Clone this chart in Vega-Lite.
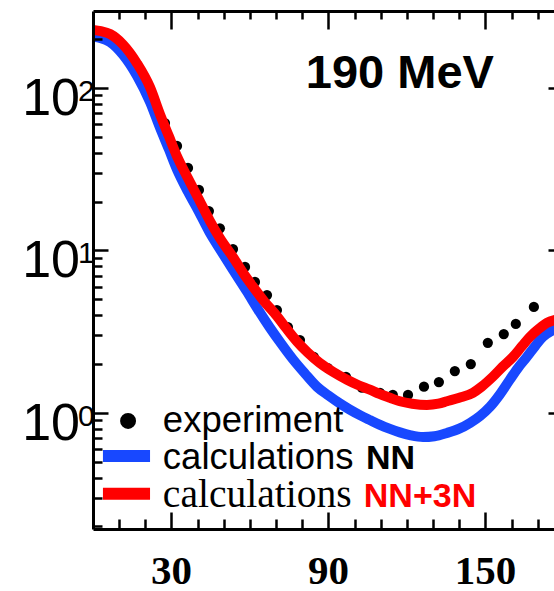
{
  "$schema": "https://vega.github.io/schema/vega-lite/v6.json",
  "width": 461,
  "height": 518,
  "autosize": "none",
  "padding": {"left": 93, "top": 11, "right": 0, "bottom": 62},
  "background": "white",
  "config": {"view": {"stroke": null}, "font": "Liberation Sans"},
  "datasets": {
    "experiment": [
      {"angle": 27.5, "xs": 60.9}, {"angle": 32.1, "xs": 44.0}, {"angle": 36.3, "xs": 32.2},
      {"angle": 40.5, "xs": 23.6}, {"angle": 44.3, "xs": 17.5}, {"angle": 48.5, "xs": 13.7},
      {"angle": 53.5, "xs": 10.2}, {"angle": 58.1, "xs": 7.92}, {"angle": 61.9, "xs": 6.40},
      {"angle": 66.5, "xs": 5.32}, {"angle": 70.3, "xs": 4.30}, {"angle": 74.5, "xs": 3.38},
      {"angle": 79.1, "xs": 2.81}, {"angle": 84.4, "xs": 2.21}, {"angle": 89.8, "xs": 1.89},
      {"angle": 96.7, "xs": 1.67}, {"angle": 102.8, "xs": 1.43}, {"angle": 109.7, "xs": 1.33},
      {"angle": 114.6, "xs": 1.29}, {"angle": 120.4, "xs": 1.29}, {"angle": 126.5, "xs": 1.45},
      {"angle": 132.2, "xs": 1.55}, {"angle": 138.3, "xs": 1.81}, {"angle": 144.4, "xs": 2.00},
      {"angle": 150.9, "xs": 2.70}, {"angle": 157.0, "xs": 3.06}, {"angle": 161.6, "xs": 3.53},
      {"angle": 168.5, "xs": 4.49}
    ],
    "calc": [
      {"model": "NN", "angle": 0, "xs": 207}, {"model": "NN", "angle": 3, "xs": 203},
      {"model": "NN", "angle": 6.5, "xs": 192}, {"model": "NN", "angle": 11.5, "xs": 160},
      {"model": "NN", "angle": 16.8, "xs": 119}, {"model": "NN", "angle": 21.8, "xs": 82},
      {"model": "NN", "angle": 25.6, "xs": 57}, {"model": "NN", "angle": 29, "xs": 42},
      {"model": "NN", "angle": 32.1, "xs": 31.5}, {"model": "NN", "angle": 36.3, "xs": 23},
      {"model": "NN", "angle": 40.5, "xs": 17.3}, {"model": "NN", "angle": 44.5, "xs": 13.0},
      {"model": "NN", "angle": 48.5, "xs": 10.2}, {"model": "NN", "angle": 53.5, "xs": 7.6},
      {"model": "NN", "angle": 58.8, "xs": 5.6}, {"model": "NN", "angle": 63, "xs": 4.35},
      {"model": "NN", "angle": 67.6, "xs": 3.35}, {"model": "NN", "angle": 72, "xs": 2.66},
      {"model": "NN", "angle": 76.4, "xs": 2.14}, {"model": "NN", "angle": 81, "xs": 1.75},
      {"model": "NN", "angle": 85.6, "xs": 1.45}, {"model": "NN", "angle": 90, "xs": 1.28},
      {"model": "NN", "angle": 94.4, "xs": 1.143}, {"model": "NN", "angle": 98, "xs": 1.052},
      {"model": "NN", "angle": 102, "xs": 0.970}, {"model": "NN", "angle": 106, "xs": 0.902},
      {"model": "NN", "angle": 109.7, "xs": 0.845}, {"model": "NN", "angle": 113.5, "xs": 0.798},
      {"model": "NN", "angle": 117.3, "xs": 0.759}, {"model": "NN", "angle": 121.5, "xs": 0.728},
      {"model": "NN", "angle": 126.1, "xs": 0.711}, {"model": "NN", "angle": 130.5, "xs": 0.719},
      {"model": "NN", "angle": 135.3, "xs": 0.753}, {"model": "NN", "angle": 140, "xs": 0.80},
      {"model": "NN", "angle": 144.1, "xs": 0.868}, {"model": "NN", "angle": 148, "xs": 0.96},
      {"model": "NN", "angle": 151.7, "xs": 1.09}, {"model": "NN", "angle": 155.5, "xs": 1.30},
      {"model": "NN", "angle": 159.3, "xs": 1.60}, {"model": "NN", "angle": 162.5, "xs": 1.90},
      {"model": "NN", "angle": 165.8, "xs": 2.21}, {"model": "NN", "angle": 169, "xs": 2.58},
      {"model": "NN", "angle": 171.9, "xs": 2.94}, {"model": "NN", "angle": 175.8, "xs": 3.24},
      {"model": "NN", "angle": 178, "xs": 3.38},
      {"model": "NN+3N", "angle": 0, "xs": 228}, {"model": "NN+3N", "angle": 3, "xs": 224},
      {"model": "NN+3N", "angle": 6.5, "xs": 215}, {"model": "NN+3N", "angle": 11.5, "xs": 185},
      {"model": "NN+3N", "angle": 16.8, "xs": 142}, {"model": "NN+3N", "angle": 21.8, "xs": 101},
      {"model": "NN+3N", "angle": 25.6, "xs": 69}, {"model": "NN+3N", "angle": 29, "xs": 50.5},
      {"model": "NN+3N", "angle": 32.1, "xs": 38}, {"model": "NN+3N", "angle": 36.3, "xs": 27.8},
      {"model": "NN+3N", "angle": 40.5, "xs": 20.6}, {"model": "NN+3N", "angle": 44.5, "xs": 15.4},
      {"model": "NN+3N", "angle": 48.5, "xs": 11.9}, {"model": "NN+3N", "angle": 53.5, "xs": 9.1},
      {"model": "NN+3N", "angle": 58.1, "xs": 7.0}, {"model": "NN+3N", "angle": 61.1, "xs": 6.0},
      {"model": "NN+3N", "angle": 65.5, "xs": 4.85}, {"model": "NN+3N", "angle": 70.3, "xs": 3.95},
      {"model": "NN+3N", "angle": 74, "xs": 3.3}, {"model": "NN+3N", "angle": 78, "xs": 2.75},
      {"model": "NN+3N", "angle": 82, "xs": 2.36}, {"model": "NN+3N", "angle": 86.7, "xs": 2.03},
      {"model": "NN+3N", "angle": 92, "xs": 1.78}, {"model": "NN+3N", "angle": 97.1, "xs": 1.60},
      {"model": "NN+3N", "angle": 101.5, "xs": 1.48}, {"model": "NN+3N", "angle": 105.8, "xs": 1.39},
      {"model": "NN+3N", "angle": 109.5, "xs": 1.31}, {"model": "NN+3N", "angle": 113.5, "xs": 1.24},
      {"model": "NN+3N", "angle": 117.3, "xs": 1.18}, {"model": "NN+3N", "angle": 122, "xs": 1.14},
      {"model": "NN+3N", "angle": 127.6, "xs": 1.12}, {"model": "NN+3N", "angle": 132, "xs": 1.14},
      {"model": "NN+3N", "angle": 135.3, "xs": 1.18}, {"model": "NN+3N", "angle": 140, "xs": 1.24},
      {"model": "NN+3N", "angle": 145.2, "xs": 1.33}, {"model": "NN+3N", "angle": 148.5, "xs": 1.45},
      {"model": "NN+3N", "angle": 152.8, "xs": 1.67}, {"model": "NN+3N", "angle": 156.5, "xs": 1.92},
      {"model": "NN+3N", "angle": 160.5, "xs": 2.21}, {"model": "NN+3N", "angle": 164, "xs": 2.58},
      {"model": "NN+3N", "angle": 167, "xs": 2.94}, {"model": "NN+3N", "angle": 170.5, "xs": 3.3},
      {"model": "NN+3N", "angle": 173.5, "xs": 3.58}, {"model": "NN+3N", "angle": 177, "xs": 3.75},
      {"model": "NN+3N", "angle": 180, "xs": 3.85}
    ],
    "xticklabels": [{"t": 30}, {"t": 90}, {"t": 150}],
    "decades": [{"v": 1, "e": "0"}, {"v": 10, "e": "1"}, {"v": 100, "e": "2"}]
  },
  "layer": [
    {
      "data": {"name": "experiment"},
      "mark": {"type": "point", "filled": true, "color": "black", "opacity": 1, "size": 105, "clip": true},
      "encoding": {
        "x": {
          "field": "angle", "type": "quantitative",
          "scale": {"domain": [0, 176.2], "nice": false, "zero": false},
          "axis": {
            "orient": "bottom", "values": [10, 20, 30, 40, 50, 60, 70, 80, 90, 100, 110, 120, 130, 140, 150, 160, 170],
            "labels": false, "title": null, "grid": false, "zindex": 1,
            "domainColor": "black", "domainWidth": 3, "tickColor": "black", "tickWidth": 2.5,
            "tickSize": {"condition": {"test": "datum.value % 60 === 30", "value": -17}, "value": -10}
          }
        },
        "y": {
          "field": "xs", "type": "quantitative",
          "scale": {"type": "log", "domain": [0.193, 298], "nice": false},
          "axis": {
            "orient": "left",
            "values": [0.2, 0.3, 0.4, 0.5, 0.6, 0.7, 0.8, 0.9, 1, 2, 3, 4, 5, 6, 7, 8, 9, 10, 20, 30, 40, 50, 60, 70, 80, 90, 100, 200],
            "labels": false, "title": null, "grid": false, "zindex": 1,
            "domainColor": "black", "domainWidth": 3, "tickColor": "black", "tickWidth": 2.5,
            "tickSize": {"condition": {"test": "datum.value === 1 || datum.value === 10 || datum.value === 100", "value": -15}, "value": -9}
          }
        }
      }
    },
    {
      "data": {"name": "calc"},
      "mark": {"type": "line", "strokeWidth": 10, "interpolate": "monotone", "clip": true},
      "encoding": {
        "x": {
          "field": "angle", "type": "quantitative",
          "scale": {"domain": [0, 176.2], "nice": false, "zero": false},
          "axis": {
            "orient": "top", "values": [10, 20, 30, 40, 50, 60, 70, 80, 90, 100, 110, 120, 130, 140, 150, 160, 170],
            "labels": false, "title": null, "grid": false, "zindex": 1,
            "domainColor": "black", "domainWidth": 3, "tickColor": "black", "tickWidth": 2.5,
            "tickSize": {"condition": {"test": "datum.value % 60 === 30", "value": -18}, "value": -8}
          }
        },
        "y": {
          "field": "xs", "type": "quantitative",
          "scale": {"type": "log", "domain": [0.193, 298], "nice": false},
          "axis": {
            "orient": "right", "values": [1, 10, 100], "labels": false, "title": null, "grid": false,
            "domain": false, "zindex": 1, "tickColor": "black", "tickWidth": 2.5, "tickSize": -6
          }
        },
        "color": {
          "field": "model", "type": "nominal",
          "scale": {"domain": ["NN", "NN+3N"], "range": ["#1848ff", "#ff0000"]},
          "legend": null
        }
      }
    },
    {
      "data": {"name": "decades"},
      "mark": {"type": "text", "align": "right", "baseline": "alphabetic", "dx": -13, "dy": 27, "fontSize": 52, "font": "Liberation Sans", "color": "black"},
      "encoding": {
        "x": {"datum": 0, "type": "quantitative", "scale": {"domain": [0, 176.2], "nice": false, "zero": false}, "axis": null},
        "y": {"field": "v", "type": "quantitative", "scale": {"type": "log", "domain": [0.193, 298], "nice": false}, "axis": null},
        "text": {"value": "10"}
      }
    },
    {
      "data": {"name": "decades"},
      "mark": {"type": "text", "align": "left", "baseline": "alphabetic", "dx": -15, "dy": 13, "fontSize": 30, "font": "Liberation Sans", "color": "black"},
      "encoding": {
        "x": {"datum": 0, "type": "quantitative", "scale": {"domain": [0, 176.2], "nice": false, "zero": false}, "axis": null},
        "y": {"field": "v", "type": "quantitative", "scale": {"type": "log", "domain": [0.193, 298], "nice": false}, "axis": null},
        "text": {"field": "e"}
      }
    },
    {
      "data": {"name": "xticklabels"},
      "mark": {"type": "text", "align": "center", "baseline": "alphabetic", "dy": 55, "fontSize": 41, "font": "Liberation Serif", "fontWeight": "bold", "color": "black"},
      "encoding": {
        "x": {"field": "t", "type": "quantitative", "scale": {"domain": [0, 176.2], "nice": false, "zero": false}, "axis": null},
        "y": {"datum": 0.193, "type": "quantitative", "scale": {"type": "log", "domain": [0.193, 298], "nice": false}, "axis": null},
        "text": {"field": "t"}
      }
    },
    {
      "data": {"values": [{}]},
      "mark": {"type": "text", "align": "center", "baseline": "alphabetic", "fontSize": 47, "font": "Liberation Sans", "fontWeight": "bold", "color": "black"},
      "encoding": {
        "x": {"datum": 117.3, "type": "quantitative", "scale": {"domain": [0, 176.2], "nice": false, "zero": false}, "axis": null},
        "y": {"datum": 100, "type": "quantitative", "scale": {"type": "log", "domain": [0.193, 298], "nice": false}, "axis": null},
        "text": {"value": "190 MeV"}
      }
    },
    {
      "data": {"values": [{}]},
      "mark": {"type": "point", "filled": true, "color": "black", "opacity": 1, "size": 254},
      "encoding": {
        "x": {"datum": 13.4, "type": "quantitative", "scale": {"domain": [0, 176.2], "nice": false, "zero": false}, "axis": null},
        "y": {"datum": 0.893, "type": "quantitative", "scale": {"type": "log", "domain": [0.193, 298], "nice": false}, "axis": null}
      }
    },
    {
      "data": {"values": [{}]},
      "mark": {"type": "text", "align": "left", "baseline": "alphabetic", "fontSize": 36.5, "font": "Liberation Sans", "color": "black"},
      "encoding": {
        "x": {"datum": 26.7, "type": "quantitative", "scale": {"domain": [0, 176.2], "nice": false, "zero": false}, "axis": null},
        "y": {"datum": 0.764, "type": "quantitative", "scale": {"type": "log", "domain": [0.193, 298], "nice": false}, "axis": null},
        "text": {"value": "experiment"}
      }
    },
    {
      "data": {"values": [{}]},
      "mark": {"type": "rule", "strokeWidth": 12, "color": "#1848ff"},
      "encoding": {
        "x": {"datum": 3.8, "type": "quantitative", "scale": {"domain": [0, 176.2], "nice": false, "zero": false}, "axis": null},
        "x2": {"datum": 21.8},
        "y": {"datum": 0.544, "type": "quantitative", "scale": {"type": "log", "domain": [0.193, 298], "nice": false}, "axis": null}
      }
    },
    {
      "data": {"values": [{}]},
      "mark": {"type": "text", "align": "left", "baseline": "alphabetic", "fontSize": 36.5, "font": "Liberation Sans", "color": "black"},
      "encoding": {
        "x": {"datum": 26.7, "type": "quantitative", "scale": {"domain": [0, 176.2], "nice": false, "zero": false}, "axis": null},
        "y": {"datum": 0.452, "type": "quantitative", "scale": {"type": "log", "domain": [0.193, 298], "nice": false}, "axis": null},
        "text": {"value": "calculations"}
      }
    },
    {
      "data": {"values": [{}]},
      "mark": {"type": "text", "align": "left", "baseline": "alphabetic", "fontSize": 34, "font": "Liberation Sans", "fontWeight": "bold", "color": "black"},
      "encoding": {
        "x": {"datum": 104.3, "type": "quantitative", "scale": {"domain": [0, 176.2], "nice": false, "zero": false}, "axis": null},
        "y": {"datum": 0.452, "type": "quantitative", "scale": {"type": "log", "domain": [0.193, 298], "nice": false}, "axis": null},
        "text": {"value": "NN"}
      }
    },
    {
      "data": {"values": [{}]},
      "mark": {"type": "rule", "strokeWidth": 12, "color": "#ff0000"},
      "encoding": {
        "x": {"datum": 3.8, "type": "quantitative", "scale": {"domain": [0, 176.2], "nice": false, "zero": false}, "axis": null},
        "x2": {"datum": 21.8},
        "y": {"datum": 0.318, "type": "quantitative", "scale": {"type": "log", "domain": [0.193, 298], "nice": false}, "axis": null}
      }
    },
    {
      "data": {"values": [{}]},
      "mark": {"type": "text", "align": "left", "baseline": "alphabetic", "fontSize": 39.5, "font": "Liberation Serif", "color": "black"},
      "encoding": {
        "x": {"datum": 26.7, "type": "quantitative", "scale": {"domain": [0, 176.2], "nice": false, "zero": false}, "axis": null},
        "y": {"datum": 0.264, "type": "quantitative", "scale": {"type": "log", "domain": [0.193, 298], "nice": false}, "axis": null},
        "text": {"value": "calculations"}
      }
    },
    {
      "data": {"values": [{}]},
      "mark": {"type": "text", "align": "left", "baseline": "alphabetic", "fontSize": 34, "font": "Liberation Sans", "fontWeight": "bold", "color": "#ff0000"},
      "encoding": {
        "x": {"datum": 103.5, "type": "quantitative", "scale": {"domain": [0, 176.2], "nice": false, "zero": false}, "axis": null},
        "y": {"datum": 0.264, "type": "quantitative", "scale": {"type": "log", "domain": [0.193, 298], "nice": false}, "axis": null},
        "text": {"value": "NN+3N"}
      }
    }
  ],
  "resolve": {"axis": {"x": "independent", "y": "independent"}}
}
